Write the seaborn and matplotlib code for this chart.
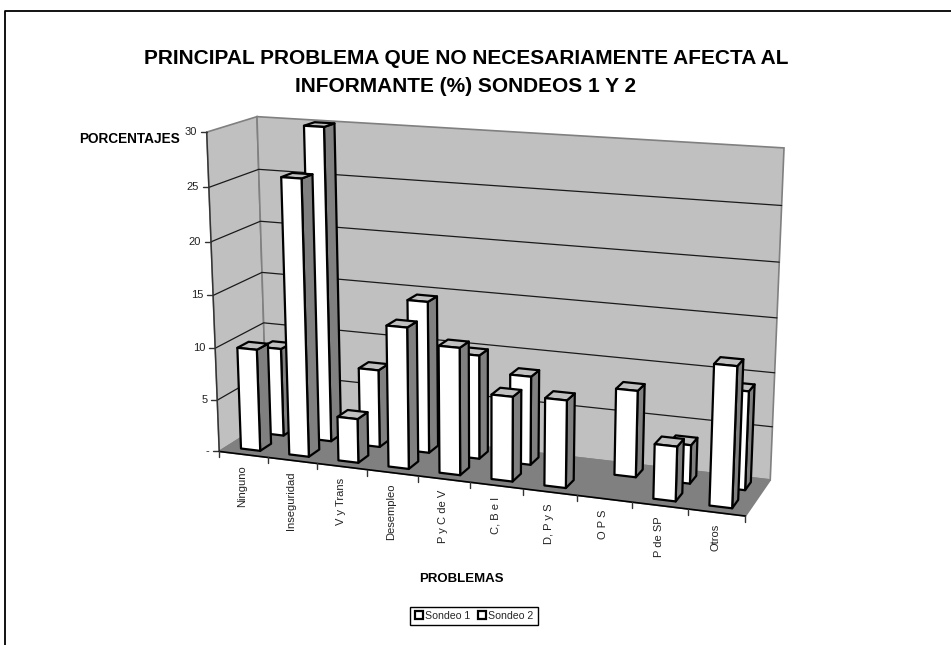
import numpy as np
import pandas as pd
import matplotlib
matplotlib.use("Agg")
import matplotlib.pyplot as plt
from matplotlib.patches import Patch
import seaborn as sns

# %% data
problemas = ["Ninguno", "Inseguridad", "V y Trans", "Desempleo", "P y C de V",
             "C, B e I", "D, P y S", "O P S", "P de SP", "Otros"]
sondeo_1 = [9.8, 26.1, 4.2, 13.3, 11.9, 7.9, 8.1, 0, 5.0, 12.7]
sondeo_2 = [8.6, 30.0, 7.5, 14.5, 9.9, 8.4, 0, 8.1, 3.6, 9.1]
y_ticks = [0, 5, 10, 15, 20, 25, 30]
y_labels = ["-", "5", "10", "15", "20", "25", "30"]

# %% 3d box -> picture, fitted from the corners of the chart box
# (category pos, depth, value) , (px x, px y)
corners = [((0, 0, 0), (219, 450)), ((10, 0, 0), (745.7, 517)),
           ((10, 1, 0), (770, 479)), ((0, 1, 0), (267, 423)),
           ((0, 0, 30), (206.7, 132.7)), ((0, 1, 30), (257, 116)),
           ((10, 1, 30), (784, 148))]
A = []
for (X, Z, Y), (u, v) in corners:
    A.append([X, Z, Y, 1, 0, 0, 0, 0, -u * X, -u * Z, -u * Y, -u])
    A.append([0, 0, 0, 0, X, Z, Y, 1, -v * X, -v * Z, -v * Y, -v])
P = np.linalg.svd(np.array(A, dtype=float))[2][-1].reshape(3, 4)


def proj(x, d, v):
    p = P @ np.array([x, d, v, 1.0])
    return p[0] / p[2], p[1] / p[2]


def quad(pts):
    return np.array([proj(*p) for p in pts])


sns.set_theme(style="white", font="Liberation Sans")
plt.rcParams["font.family"] = ["Liberation Sans", "DejaVu Sans"]

fig = plt.figure(figsize=(9.51, 6.45), dpi=100)
ax = fig.add_axes([0, 0, 1, 1])
ax.set_xlim(0, 951)
ax.set_ylim(645, 0)
ax.axis("off")

# outer frame, open on the right and at the bottom
ax.plot([5, 5, 951], [645, 10.5, 10.5], color="black", lw=1.3)

# %% walls and floor
left_wall = quad([(0, 0, 0), (0, 1, 0), (0, 1, 30), (0, 0, 30)])
back_wall = quad([(0, 1, 0), (10, 1, 0), (10, 1, 30), (0, 1, 30)])
floor = quad([(0, 0, 0), (10, 0, 0), (10, 1, 0), (0, 1, 0)])
for poly, col in [(left_wall, "#C0C0C0"), (back_wall, "#C0C0C0"), (floor, "#808080")]:
    ax.fill(poly[:, 0], poly[:, 1], facecolor=col, edgecolor="#808080", lw=1.2, zorder=1)

# gridlines through seaborn
grid = []
for v in y_ticks:
    if v in (0, 30):
        continue
    for x, d in [(0, 0), (0, 1), (10, 1)]:
        sx, sy = proj(x, d, v)
        grid.append({"sx": sx, "sy": sy, "v": v, "o": len(grid)})
grid = pd.DataFrame(grid)
sns.lineplot(data=grid, x="sx", y="sy", units="v", estimator=None, sort=False,
             color="#1a1a1a", lw=0.9, ax=ax, zorder=2, legend=False)
ax.axis("off")
ax.set_xlim(0, 951)
ax.set_ylim(645, 0)

# axis lines and ticks
a, b = proj(0, 0, 0), proj(0, 0, 30)
ax.plot([a[0], b[0]], [a[1], b[1]], color="#333333", lw=1, zorder=2)
a, b = proj(0, 0, 0), proj(10, 0, 0)
ax.plot([a[0], b[0]], [a[1], b[1]], color="black", lw=1.2, zorder=3)
for v, lab in zip(y_ticks, y_labels):
    sx, sy = proj(0, 0, v)
    ax.plot([sx - 6, sx], [sy, sy], color="#333333", lw=1, zorder=2)
    ax.text(sx - 10, sy, lab, ha="right", va="center", fontsize=8, color="#222222")
for i in range(len(problemas) + 1):
    sx, sy = proj(i, 0, 0)
    ax.plot([sx, sx], [sy, sy + 6], color="#333333", lw=1, zorder=3)
for i, name in enumerate(problemas):
    sx, sy = proj(i + 0.5, 0, 0)
    ax.text(sx - 1, sy + 11, name, rotation=90, ha="center", va="top",
            fontsize=8, color="#222222")


# %% bars, back row first
def bar(i, d0, d1, val, z):
    x0, x1 = i + 0.3, i + 0.7
    top = quad([(x0, d0, val), (x1, d0, val), (x1, d1, val), (x0, d1, val)])
    side = quad([(x1, d0, 0), (x1, d1, 0), (x1, d1, val), (x1, d0, val)])
    front = quad([(x0, d0, 0), (x1, d0, 0), (x1, d0, val), (x0, d0, val)])
    for poly, col in [(side, "#808080"), (top, "#C0C0C0"), (front, "white")]:
        ax.fill(poly[:, 0], poly[:, 1], facecolor=col, edgecolor="black",
                lw=1.6, joinstyle="round", zorder=z)


for row, (vals, d0, d1) in enumerate([(sondeo_2, 0.65, 0.88), (sondeo_1, 0.15, 0.38)]):
    for i, val in enumerate(vals):
        if val > 0:
            bar(i, d0, d1, val, 4 + row)

# %% text
ax.text(466, 58, "PRINCIPAL PROBLEMA QUE NO NECESARIAMENTE AFECTA AL", ha="center",
        va="center", fontsize=15, fontweight="bold", color="black")
ax.text(466, 86, "INFORMANTE (%) SONDEOS 1 Y 2", ha="center",
        va="center", fontsize=15, fontweight="bold", color="black")
ax.text(130, 139, "PORCENTAJES", ha="center", va="center", fontsize=9.8,
        fontweight="bold", color="black")
ax.text(461, 579, "PROBLEMAS", ha="center", va="center", fontsize=9.5,
        fontweight="bold", color="black")

handles = [Patch(facecolor="white", edgecolor="black", lw=1.6, label="Sondeo 1"),
           Patch(facecolor="white", edgecolor="black", lw=1.6, label="Sondeo 2")]
leg = ax.legend(handles=handles, ncol=2, loc="center", bbox_to_anchor=(474 / 951, 1 - 616 / 645),
                fontsize=7.6, frameon=True, fancybox=False, edgecolor="black",
                framealpha=1, handlelength=0.8, handleheight=0.8, handletextpad=0.2,
                columnspacing=0.7, borderpad=0.4, borderaxespad=0)
leg.get_frame().set_linewidth(1)
leg.set_zorder(10)

fig.savefig("out.png", dpi=100)
